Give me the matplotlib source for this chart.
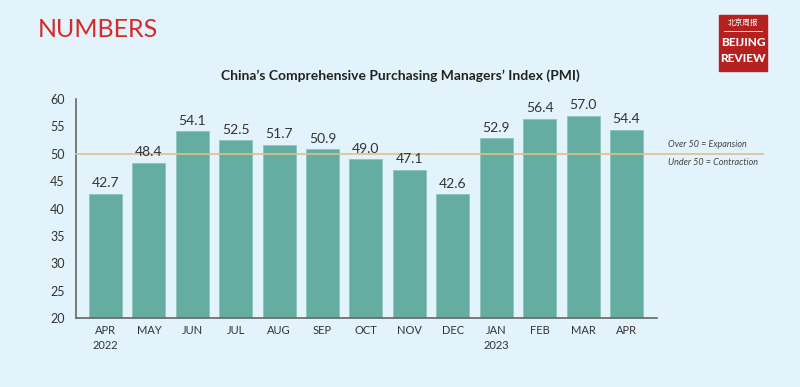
import matplotlib.pyplot as plt
from matplotlib.patches import Rectangle

# PMI readings, Apr 2022 - Apr 2023
months = ["APR\n2022", "MAY", "JUN", "JUL", "AUG", "SEP", "OCT", "NOV", "DEC",
          "JAN\n2023", "FEB", "MAR", "APR"]
pmi = [42.7, 48.4, 54.1, 52.5, 51.7, 50.9, 49.0, 47.1, 42.6, 52.9, 56.4, 57.0, 54.4]
threshold = 50

bg = "#e2f3fb"
bar_color = "#66ada1"
line_color = "#dcc08e"
red = "#d42a2a"

plt.rcParams["font.family"] = ["Lato", "DejaVu Sans"]

fig = plt.figure(figsize=(8, 3.87), dpi=100, facecolor=bg)
ax = fig.add_axes([0.095, 0.178, 0.726, 0.566], facecolor=bg)

x = range(len(pmi))
ax.bar(x, pmi, width=0.76, color=bar_color, edgecolor="#8cc4b8", linewidth=0.6, zorder=2)
for i, v in enumerate(pmi):
    ax.text(i, v + 0.8, f"{v:.1f}", ha="center", va="bottom", fontsize=10,
            color="#333333", zorder=4)

# 50 line runs past the axes into the note area
ax.axhline(threshold, xmin=0, xmax=1.183, color=line_color, lw=1.2, zorder=3, clip_on=False)
ax.text(12.96, threshold + 0.8, "Over 50 = Expansion", fontsize=6.5, style="italic",
        color="#444444", va="bottom")
ax.text(12.96, threshold - 0.8, "Under 50 = Contraction", fontsize=6.5, style="italic",
        color="#444444", va="top")

ax.set_ylim(20, 60)
ax.set_xlim(-0.68, 12.7)
ax.set_yticks(range(20, 61, 5))
ax.set_xticks(list(x))
ax.set_xticklabels(months, fontsize=8, color="#333333", linespacing=1.4)
ax.tick_params(axis="y", length=0, labelsize=9, labelcolor="#333333", pad=8)
ax.tick_params(axis="x", length=0, pad=5)
for s in ["top", "right"]:
    ax.spines[s].set_visible(False)
ax.spines["left"].set_color("#666666")
ax.spines["bottom"].set_color("#666666")
ax.spines["left"].set_linewidth(1.2)
ax.spines["bottom"].set_linewidth(1.2)

fig.text(0.5, 0.805, "China\u2019s Comprehensive Purchasing Managers\u2019 Index (PMI)",
         ha="center", va="center", fontsize=10, fontweight="bold", color="#222222")
fig.text(0.047, 0.925, "NUMBERS", fontsize=18, color=red, va="center")

# logo block
fig.patches.append(Rectangle((719 / 800, 1 - 71 / 387), 48 / 800, 56 / 387,
                             transform=fig.transFigure, color="#b5211f"))
fig.text(743 / 800, 1 - 24 / 387, "北京周报", fontsize=5.5, color="white", ha="center",
         va="center", family=["Noto Sans CJK SC", "DejaVu Sans"])
fig.add_artist(plt.Line2D([724 / 800, 762 / 800], [1 - 31 / 387, 1 - 31 / 387],
                          color="white", lw=0.6, transform=fig.transFigure))
fig.text(743 / 800, 1 - 43 / 387, "BEIJING", fontsize=8.6, color="white", ha="center",
         va="center", fontweight="black")
fig.text(743 / 800, 1 - 59 / 387, "REVIEW", fontsize=8.6, color="white", ha="center",
         va="center", fontweight="black")

fig.savefig("out.png", dpi=100, facecolor=bg)
